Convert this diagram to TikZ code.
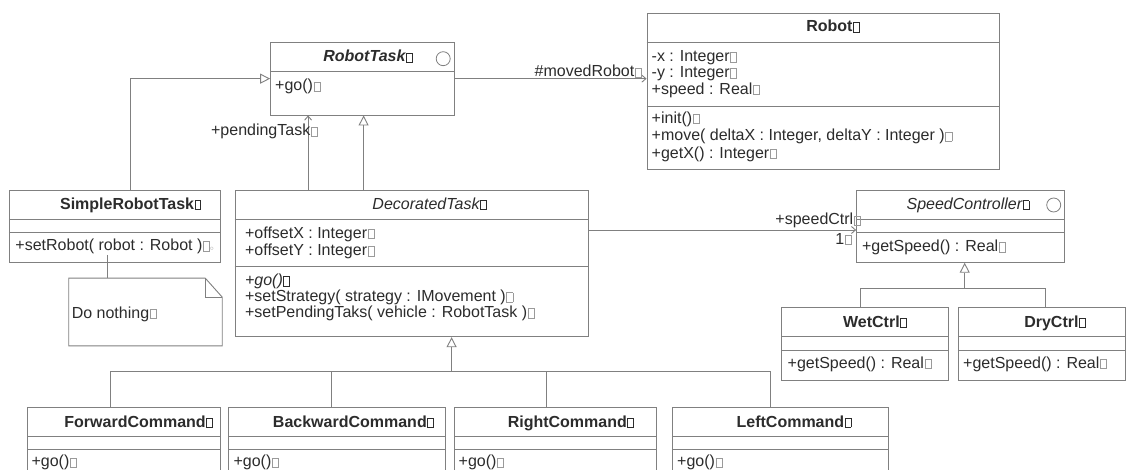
\documentclass[tikz,border=0pt]{standalone}
\usepackage{fontspec}
\setmainfont{Liberation Sans}
\usetikzlibrary{arrows.meta,fit}

\definecolor{edge}{HTML}{808080}
\definecolor{ink}{HTML}{2C2C2C}
\definecolor{glyph}{HTML}{9A9A9A}

\newcommand\fsz{\fontsize{16pt}{17.5pt}\selectfont}
% small placeholder square printed after each name
\newcommand\gbox{\hspace{0.6pt}{\color{glyph}\setlength\fboxsep{0pt}\setlength\fboxrule{0.7pt}\fbox{\rule{0pt}{8.5pt}\hspace{5.5pt}}}}
\newcommand\tbox{\hspace{0.6pt}{\color{ink}\setlength\fboxsep{0pt}\setlength\fboxrule{0.8pt}\fbox{\rule{0pt}{8.5pt}\hspace{5pt}}}}

\tikzset{
  umlclass/.style={draw=edge, line width=0.9pt, fill=white, inner sep=0pt},
  compart/.style={draw=edge, line width=0.9pt},
  member/.style={anchor=base west, inner sep=0pt, text=ink, font=\fsz},
  title/.style={anchor=base, inner sep=0pt, text=ink, font=\fsz\bfseries},
  role/.style={anchor=base east, inner sep=0pt, text=ink, font=\fsz},
  icon/.style={draw=edge, circle, minimum size=14pt, inner sep=0pt, line width=0.8pt},
  line/.style={draw=edge, line width=0.9pt},
  gen/.style={line, -{Triangle[open, length=10pt, width=10pt]}},
  assoc/.style={line, -{Straight Barb[length=4pt, width=7pt]}},
  notebox/.style={draw=edge, line width=0.9pt},
}

\begin{document}
\begin{tikzpicture}[x=1pt, y=-1pt]
\useasboundingbox (0,0) rectangle (1127,470);
\clip (0,0) rectangle (1127,470);
\fill[white] (0,0) rectangle (1127,470);

% ---------- RobotTask ----------
\node[umlclass, fit={(270.6,42.3) (454.7,115)}] (rtask) {};
\draw[compart] (rtask.west |- 0,71.7) -- (rtask.east |- 0,71.7);
\node[title, font=\fsz\bfseries\itshape] (rtask-name) at (368,62) {RobotTask\tbox};
\node[icon] (rtask-icon) at (443.2,58.7) {};
\node[member] (rtask-op1) at (275,91) {+go()\gbox};

% ---------- Robot ----------
\node[umlclass, fit={(647,13.3) (999.3,169.3)}] (robot) {};
\draw[compart] (robot.west |- 0,42.7) -- (robot.east |- 0,42.7);
\draw[compart] (robot.west |- 0,106.7) -- (robot.east |- 0,106.7);
\node[title] (robot-name) at (833,31.7) {Robot\tbox};
\node[member] (robot-a1) at (651.5,61.7) {-x : Integer\gbox};
\node[member] (robot-a2) at (651.5,77.7) {-y : Integer\gbox};
\node[member] (robot-a3) at (651.5,94.3) {+speed : Real\gbox};
\node[member] (robot-o1) at (651.5,123.3) {+init()\gbox};
\node[member] (robot-o2) at (651.5,141) {+move( deltaX : Integer, deltaY : Integer )\gbox};
\node[member] (robot-o3) at (651.5,158.3) {+getX() : Integer\gbox};

\draw[assoc] (rtask.east) -- (robot.west |- rtask.east);
\node[role] (moved-role) at (642,77) {\#movedRobot\gbox};

% ---------- SimpleRobotTask ----------
\node[umlclass, fit={(9.2,190) (220.8,262.3)}] (srt) {};
\draw[compart] (srt.west |- 0,219.3) -- (srt.east |- 0,219.3);
\draw[compart] (srt.west |- 0,232.3) -- (srt.east |- 0,232.3);
\node[title] (srt-name) at (130.7,209.5) {SimpleRobotTask\tbox};
\node[member] (srt-op1) at (15.3,250.7) {+setRobot( robot : Robot )\gbox{\color{glyph}\scriptsize$\circ$}};

\coordinate (srt-up) at (130.1,190);
\draw[gen] (srt-up) |- (rtask.west);

% ---------- note ----------
\node[fit={(68.9,278.3) (222,345.7)}, inner sep=0pt] (note) {};
\draw[notebox] (note.north west) -- ([xshift=-17pt]note.north east)
  -- ([yshift=-19pt]note.north east) -- (note.south east) -- (note.south west) -- cycle;
\draw[notebox] ([xshift=-17pt]note.north east) -- ([xshift=-17pt,yshift=-19pt]note.north east)
  -- ([yshift=-19pt]note.north east);
\node[member] (note-text) at (71.6,318.3) {Do nothing\gbox};
\coordinate (note-link) at (107.2,255);
\draw[line] (note-link) -- (note-link |- note.north);

% ---------- DecoratedTask ----------
\node[umlclass, fit={(235,190) (588.6,336.7)}] (dtask) {};
\draw[compart] (dtask.west |- 0,219.3) -- (dtask.east |- 0,219.3);
\draw[compart] (dtask.west |- 0,266.7) -- (dtask.east |- 0,266.7);
\node[title, font=\fsz\itshape] (dtask-name) at (429.6,209.5) {DecoratedTask\tbox};
\node[member] (dtask-a1) at (244.9,238.3) {+offsetX : Integer\gbox};
\node[member] (dtask-a2) at (244.9,255.7) {+offsetY : Integer\gbox};
\node[member] (dtask-o1) at (244.9,285.7) {\textit{+go()}\tbox};
\node[member] (dtask-o2) at (244.9,301.7) {+setStrategy( strategy : IMovement )\gbox};
\node[member] (dtask-o3) at (244.9,317.7) {+setPendingTaks( vehicle : RobotTask )\gbox};

\coordinate (dtask-pend) at (308.1,190);
\draw[assoc] (dtask-pend) -- (dtask-pend |- rtask.south);
\node[role] (pend-role) at (318,136) {+pendingTask\gbox};
\coordinate (dtask-up) at (363.6,190);
\draw[gen] (dtask-up) -- (dtask-up |- rtask.south);

% ---------- SpeedController ----------
\node[umlclass, fit={(856.6,190) (1064.1,262.3)}] (spc) {};
\draw[compart] (spc.west |- 0,219.3) -- (spc.east |- 0,219.3);
\draw[compart] (spc.west |- 0,232.3) -- (spc.east |- 0,232.3);
\node[title, font=\fsz\itshape] (spc-name) at (968,209.5) {SpeedController\tbox};
\node[icon] (spc-icon) at (1053.7,205) {};
\node[member] (spc-o1) at (861.8,251.7) {+getSpeed() : Real\gbox};

\draw[assoc] (dtask.east |- 0,230) -- (spc.west |- 0,230);
\node[role] (speed-role) at (861,225) {+speedCtrl\gbox};
\node[role] (speed-mult) at (852,244.3) {1\gbox};

% ---------- WetCtrl / DryCtrl ----------
\node[umlclass, fit={(781.6,307.7) (948.7,380)}] (wet) {};
\draw[compart] (wet.west |- 0,336.9) -- (wet.east |- 0,336.9);
\draw[compart] (wet.west |- 0,350.5) -- (wet.east |- 0,350.5);
\node[title] (wet-name) at (875,327.3) {WetCtrl\tbox};
\node[member] (wet-o1) at (787.5,368.3) {+getSpeed() : Real\gbox};

\node[umlclass, fit={(958.4,307.7) (1125.5,380)}] (dry) {};
\draw[compart] (dry.west |- 0,336.9) -- (dry.east |- 0,336.9);
\draw[compart] (dry.west |- 0,350.5) -- (dry.east |- 0,350.5);
\node[title] (dry-name) at (1055,327.3) {DryCtrl\tbox};
\node[member] (dry-o1) at (963,368.3) {+getSpeed() : Real\gbox};

\coordinate (spc-j) at (964.7,288.3);
\coordinate (wet-up) at (860.1,307.7);
\coordinate (dry-up) at (1045.6,307.7);
\draw[line] (wet-up) |- (dry-up |- spc-j) -- (dry-up);
\draw[gen] (spc-j) -- (spc-j |- spc.south);

% ---------- commands ----------
\node[umlclass, fit={(27.6,407.3) (220.8,492)}] (fwd) {};
\node[umlclass, fit={(228.5,407.3) (445.1,492)}] (bwd) {};
\node[umlclass, fit={(454.7,407.3) (656,492)}] (rgt) {};
\node[umlclass, fit={(672.4,407.3) (888.7,492)}] (lft) {};
\foreach \c in {fwd,bwd,rgt,lft}{
  \draw[compart] (\c.west |- 0,436.7) -- (\c.east |- 0,436.7);
  \draw[compart] (\c.west |- 0,449) -- (\c.east |- 0,449);
}
\node[title] (fwd-name) at (138.7,427) {ForwardCommand\tbox};
\node[title] (bwd-name) at (353.5,427) {BackwardCommand\tbox};
\node[title] (rgt-name) at (570.9,427) {RightCommand\tbox};
\node[title] (lft-name) at (794,427) {LeftCommand\tbox};
\node[member] (fwd-o1) at (31.4,466.7) {+go()\gbox};
\node[member] (bwd-o1) at (233.4,466.7) {+go()\gbox};
\node[member] (rgt-o1) at (458.5,466.7) {+go()\gbox};
\node[member] (lft-o1) at (677,466.7) {+go()\gbox};

\coordinate (cmd-j) at (451.6,371.7);
\coordinate (fwd-up) at (110.2,407.3);
\coordinate (bwd-up) at (331.8,407.3);
\coordinate (rgt-up) at (546.1,407.3);
\coordinate (lft-up) at (770.1,407.3);
\draw[line] (fwd-up) |- (lft-up |- cmd-j) -- (lft-up);
\draw[line] (bwd-up) -- (bwd-up |- cmd-j);
\draw[line] (rgt-up) -- (rgt-up |- cmd-j);
\draw[gen] (cmd-j) -- (cmd-j |- dtask.south);
\end{tikzpicture}
\end{document}
